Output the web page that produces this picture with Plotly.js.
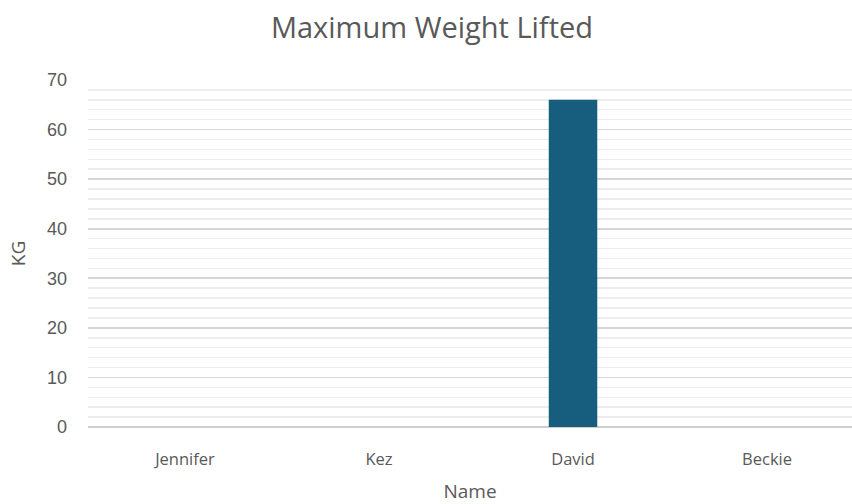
<!DOCTYPE html>
<html>
<head>
<meta charset="utf-8">
<script src="https://cdn.plot.ly/plotly-3.0.1.min.js"></script>
<style>html,body{margin:0;padding:0;background:#fff;}#chart{width:852px;height:504px;}</style>
</head>
<body>
<div id="chart"></div>
<script>
const names = ["Jennifer", "Kez", "David", "Beckie"];
const weights = [0, 0, 66, 0];

const data = [{
  type: "bar",
  x: names,
  y: weights,
  width: 0.25,
  marker: { color: "#165d7e", line: { width: 0 } },
  hoverinfo: "x+y"
}];

const layout = {
  width: 852,
  height: 504,
  margin: { l: 88, r: 0, t: 80, b: 77 },
  paper_bgcolor: "#ffffff",
  plot_bgcolor: "#ffffff",
  showlegend: false,
  title: {
    text: "Maximum Weight Lifted",
    x: 0.507, xref: "container", xanchor: "center",
    y: 0.945, yanchor: "middle",
    font: { family: "'Open Sans', 'Noto Sans', sans-serif", size: 29, color: "#595959" }
  },
  xaxis: {
    type: "category",
    range: [-0.5, 3.438],
    showgrid: false,
    zeroline: false,
    showline: false,
    ticks: "",
    ticklabelstandoff: 20,
    tickfont: { family: "'Open Sans', 'Noto Sans', sans-serif", size: 16.5, color: "#595959" },
    title: { text: "Name", standoff: 16, font: { family: "'Open Sans', 'Noto Sans', sans-serif", size: 19, color: "#595959" } },
    fixedrange: true
  },
  yaxis: {
    range: [0, 70],
    dtick: 10,
    tick0: 0,
    showgrid: true,
    gridcolor: "#d6d6d6",
    gridwidth: 1.6,
    zeroline: true,
    zerolinecolor: "#cfcfcf",
    zerolinewidth: 2,
    showline: false,
    ticks: "",
    ticklabelstandoff: 20,
    tickfont: { family: "'Liberation Sans', Arial, sans-serif", size: 18, color: "#595959" },
    minor: { dtick: 2, showgrid: true, gridcolor: "#ededed", gridwidth: 1.5 },
    title: { text: "KG", standoff: 16, font: { family: "'Open Sans', 'Noto Sans', sans-serif", size: 19, color: "#595959" } },
    fixedrange: true
  }
};

Plotly.newPlot("chart", data, layout, { displayModeBar: false, staticPlot: true });
</script>
</body>
</html>
